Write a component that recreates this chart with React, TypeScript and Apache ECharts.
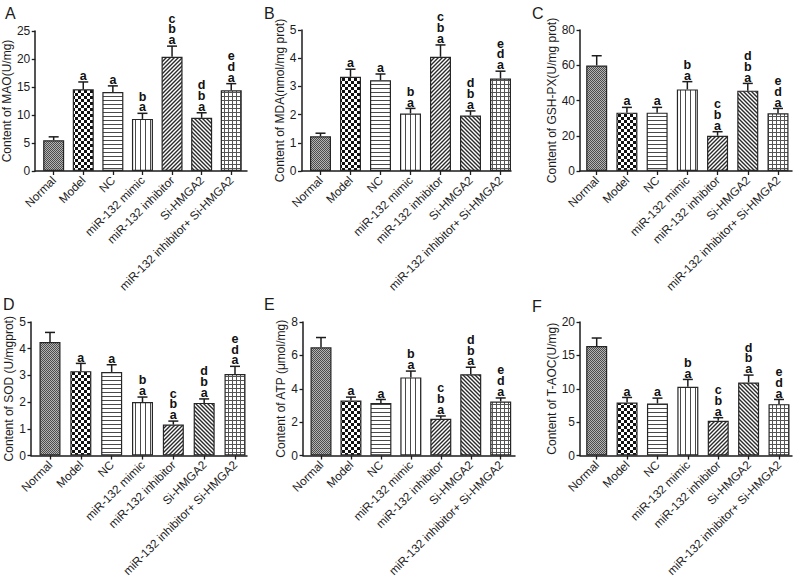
import React, { useEffect, useRef } from 'react';
import * as echarts from 'echarts';

const categories = [
  'Normal',
  'Model',
  'NC',
  'miR-132 mimic',
  'miR-132 inhibitor',
  'Si-HMGA2',
  'miR-132 inhibitor+ Si-HMGA2',
];
const sigLetters = ['', 'a', 'a', 'b\na', 'c\nb\na', 'd\nb\na', 'e\nd\na'];

const maoMean = [5.5, 14.6, 14.1, 9.3, 20.4, 9.5, 14.4];
const maoErr = [0.6, 1.3, 1.1, 1.0, 1.9, 0.9, 1.2];
const mdaMean = [1.23, 3.34, 3.22, 2.04, 4.05, 1.97, 3.28];
const mdaErr = [0.11, 0.27, 0.22, 0.18, 0.42, 0.16, 0.26];
const gshMean = [59.9, 33.1, 33.1, 46.3, 20.0, 45.6, 32.7];
const gshErr = [5.5, 3.0, 3.0, 4.4, 2.3, 4.1, 2.8];
const sodMean = [4.25, 3.16, 3.13, 2.0, 1.16, 1.97, 3.05];
const sodErr = [0.36, 0.29, 0.27, 0.19, 0.13, 0.15, 0.29];
const atpMean = [6.48, 3.3, 3.15, 4.68, 2.2, 4.87, 3.24];
const atpErr = [0.59, 0.2, 0.21, 0.38, 0.17, 0.42, 0.21];
const taocMean = [16.4, 7.95, 7.8, 10.3, 5.2, 10.95, 7.7];
const taocErr = [1.2, 0.75, 0.8, 1.1, 0.47, 1.1, 0.7];

const panelLetters = ['A', 'B', 'C', 'D', 'E', 'F'];
const yTitles = [
  'Content of MAO(U/mg)',
  'Content of MDA(nmol/mg prot)',
  'Content of GSH-PX(U/mg prot)',
  'Content of SOD (U/mgprot)',
  'Content of ATP (\u03bcmol/mg)',
  'Content of T-AOC(U/mg)',
];
const yMax = [25, 5, 80, 5, 8, 20];
const yInterval = [5, 1, 20, 1, 2, 5];
const means = [maoMean, mdaMean, gshMean, sodMean, atpMean, taocMean];
const errs = [maoErr, mdaErr, gshErr, sodErr, atpErr, taocErr];

// layout (pixels): axis x, first bar centre, last bar centre, axis end, top, bottom, nameGap, letter pos
const layout = [
  { ax: 32, first: 50.7, last: 231, end: 247, top: 31, bottom: 171, gap: 17, lx: 5, ly: 5 },
  { ax: 301.5, first: 320.5, last: 500.5, end: 511, top: 30, bottom: 171, gap: 9, lx: 264, ly: 5 },
  { ax: 580, first: 596.7, last: 778, end: 792, top: 30, bottom: 171, gap: 21, lx: 532, ly: 5 },
  { ax: 31, first: 50, last: 235, end: 247, top: 322, bottom: 463, gap: 13, lx: 3, ly: 296 },
  { ax: 303, first: 321, last: 500.7, end: 515, top: 322, bottom: 463, gap: 15, lx: 264, ly: 296 },
  { ax: 580, first: 596.7, last: 779, end: 792, top: 322, bottom: 462, gap: 19, lx: 532, ly: 298 },
];

const FONT = 'Arial, "Liberation Sans", Helvetica, sans-serif';
const INK = '#1c1c1c';

function makePattern(kind: string) {
  const c = document.createElement('canvas');
  let s = 4;
  if (kind === 'dots') s = 2;
  if (kind === 'checker') s = 6;
  if (kind === 'vlines') s = 5;
  c.width = s;
  c.height = s;
  const ctx = c.getContext('2d')!;
  ctx.fillStyle = '#ffffff';
  ctx.fillRect(0, 0, s, s);
  if (kind === 'dots') {
    ctx.fillStyle = '#b4b4b4';
    ctx.fillRect(0, 0, 2, 2);
    ctx.fillStyle = '#4c4c4c';
    ctx.fillRect(0, 0, 1, 1);
    ctx.fillRect(1, 1, 1, 1);
  } else if (kind === 'checker') {
    ctx.fillStyle = '#111111';
    ctx.fillRect(0, 0, 3, 3);
    ctx.fillRect(3, 3, 3, 3);
  } else if (kind === 'hlines') {
    ctx.fillStyle = '#4a4a4a';
    ctx.fillRect(0, 0, s, 1);
  } else if (kind === 'vlines') {
    ctx.fillStyle = '#4a4a4a';
    ctx.fillRect(0, 0, 1, s);
  } else if (kind === 'grid') {
    ctx.fillStyle = '#555555';
    ctx.fillRect(0, 0, s, 1);
    ctx.fillRect(0, 0, 1, s);
  } else if (kind === 'diagUp' || kind === 'diagDown') {
    ctx.strokeStyle = '#2a2a2a';
    ctx.lineWidth = 1.4;
    ctx.beginPath();
    if (kind === 'diagUp') {
      ctx.moveTo(-1, s + 1);
      ctx.lineTo(s + 1, -1);
      ctx.moveTo(-1, 1);
      ctx.lineTo(1, -1);
      ctx.moveTo(s - 1, s + 1);
      ctx.lineTo(s + 1, s - 1);
    } else {
      ctx.moveTo(-1, -1);
      ctx.lineTo(s + 1, s + 1);
      ctx.moveTo(s - 1, -1);
      ctx.lineTo(s + 1, 1);
      ctx.moveTo(-1, s - 1);
      ctx.lineTo(1, s + 1);
    }
    ctx.stroke();
  }
  return { image: c, repeat: 'repeat' } as any;
}

const patternKinds = ['dots', 'checker', 'hlines', 'vlines', 'diagUp', 'diagDown', 'grid'];

export default function App() {
  const ref = useRef<HTMLDivElement>(null);
  useEffect(() => {
    if (!ref.current) return;
    const chart = echarts.init(ref.current, null, { renderer: 'svg' });
    const patterns = patternKinds.map(makePattern);

    const grid: any[] = [];
    const xAxis: any[] = [];
    const yAxis: any[] = [];
    const series: any[] = [];
    const title: any[] = [];
    const idxs = categories.map((_, i) => i);

    layout.forEach((L, p) => {
      const sp = (L.last - L.first) / 6;
      grid.push({
        left: L.ax,
        top: L.top,
        width: L.end - L.ax,
        height: L.bottom - L.top,
        containLabel: false,
      });
      xAxis.push({
        type: 'value',
        gridIndex: p,
        min: -(L.first - L.ax) / sp,
        max: 6 + (L.end - L.last) / sp,
        splitLine: { show: false },
        axisLine: { show: true, onZero: false, lineStyle: { color: INK, width: 1.5 } },
        axisTick: { show: true, length: 4, customValues: idxs, lineStyle: { color: INK, width: 1.3 } },
        axisLabel: {
          customValues: idxs,
          rotate: 45,
          margin: 7,
          fontSize: 11.8,
          fontFamily: FONT,
          color: INK,
          formatter: (v: number) => categories[Math.round(v)] ?? '',
        },
      });
      yAxis.push({
        type: 'value',
        gridIndex: p,
        min: 0,
        max: yMax[p],
        interval: yInterval[p],
        name: yTitles[p],
        nameLocation: 'middle',
        nameGap: L.gap,
        nameTextStyle: { fontSize: 12, fontFamily: FONT, color: INK },
        splitLine: { show: false },
        axisLine: { show: true, onZero: false, lineStyle: { color: INK, width: 1.5 } },
        axisTick: { show: true, length: 3.5, lineStyle: { color: INK, width: 1.3 } },
        axisLabel: { fontSize: 12, fontFamily: FONT, color: INK, margin: 5 },
      });
      title.push({
        text: panelLetters[p],
        left: L.lx,
        top: L.ly,
        padding: 0,
        textStyle: { fontSize: 16, fontWeight: 'normal', fontFamily: FONT, color: INK },
      });
      const m = means[p];
      const e = errs[p];
      series.push({
        type: 'bar',
        xAxisIndex: p,
        yAxisIndex: p,
        barWidth: 21,
        data: m.map((v, i) => ({
          value: [i, v],
          itemStyle: { color: patterns[i], borderColor: '#262626', borderWidth: 1.2 },
        })),
      });
      series.push({
        type: 'custom',
        xAxisIndex: p,
        yAxisIndex: p,
        clip: false,
        encode: { x: 0, y: 1 },
        data: m.map((v, i) => [i, v, e[i]]),
        renderItem: (params: any, api: any) => {
          const i = api.value(0);
          const mv = api.value(1);
          const ev = api.value(2);
          const base = api.coord([i, mv]);
          const topP = api.coord([i, mv + ev]);
          const children: any[] = [
            {
              type: 'line',
              shape: { x1: base[0], y1: base[1], x2: topP[0], y2: topP[1] },
              style: { stroke: INK, lineWidth: 1.5 },
            },
            {
              type: 'line',
              shape: { x1: topP[0] - 5, y1: topP[1], x2: topP[0] + 5, y2: topP[1] },
              style: { stroke: INK, lineWidth: 1.5 },
            },
          ];
          const lbl = sigLetters[params.dataIndex];
          if (lbl) {
            children.push({
              type: 'text',
              x: topP[0],
              y: topP[1] - 0.5,
              style: {
                text: lbl,
                align: 'center',
                verticalAlign: 'bottom',
                font: 'bold 12.5px ' + FONT,
                lineHeight: 10.8,
                fill: '#111',
              },
            });
          }
          return { type: 'group', children };
        },
      });
    });

    chart.setOption({
      animation: false,
      backgroundColor: '#ffffff',
      title,
      grid,
      xAxis,
      yAxis,
      series,
    });
    return () => chart.dispose();
  }, []);
  return (
    <div
      ref={ref}
      style={{ position: 'fixed', left: 0, top: 0, width: 800, height: 579 }}
    />
  );
}
